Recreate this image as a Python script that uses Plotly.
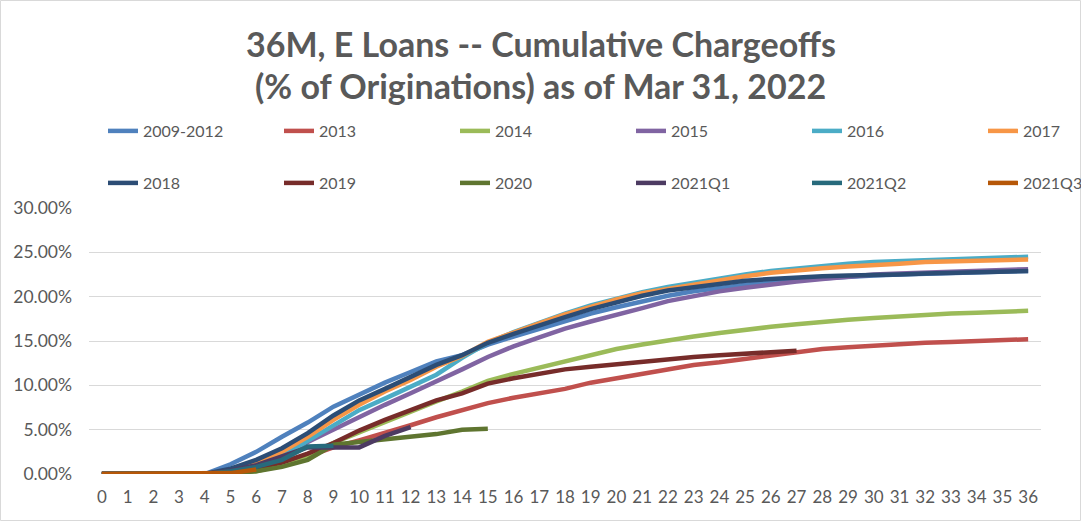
import plotly.graph_objects as go

months = list(range(0, 37))
tick_labels = [str(m) for m in months]

series_names = ["2009-2012", "2013", "2014", "2015", "2016", "2017",
                "2018", "2019", "2020", "2021Q1", "2021Q2", "2021Q3"]

s_2009_2012 = [0, 0, 0, 0, 0, 1.1, 2.5, 4.2, 5.8, 7.6, 9.0, 10.3, 11.5, 12.7, 13.4, 14.6,
               15.5, 16.4, 17.3, 18.1, 18.8, 19.5, 20.1, 20.6, 21.0, 21.4, 21.7, 21.9,
               22.1, 22.3, 22.4, 22.5, 22.6, 22.7, 22.8, 22.8, 22.9]
s_2013 = [0, 0, 0, 0, 0, 0.1, 0.4, 1.0, 2.0, 3.0, 3.8, 4.6, 5.5, 6.4, 7.2, 8.0,
          8.6, 9.1, 9.6, 10.3, 10.8, 11.3, 11.8, 12.3, 12.6, 13.0, 13.4, 13.8,
          14.1, 14.3, 14.5, 14.6, 14.8, 14.9, 15.0, 15.1, 15.2]
s_2014 = [0, 0, 0, 0, 0, 0.1, 0.3, 1.0, 2.0, 3.5, 4.7, 5.9, 7.0, 8.2, 9.3, 10.5,
          11.3, 12.0, 12.7, 13.4, 14.1, 14.6, 15.1, 15.5, 15.9, 16.3, 16.6, 16.9,
          17.2, 17.4, 17.6, 17.8, 18.0, 18.1, 18.2, 18.3, 18.4]
s_2015 = [0, 0, 0, 0, 0, 0.3, 1.0, 2.2, 3.6, 5.1, 6.5, 7.8, 9.1, 10.4, 11.8, 13.2,
          14.4, 15.4, 16.4, 17.2, 17.9, 18.7, 19.5, 20.1, 20.6, 21.0, 21.4, 21.7,
          22.0, 22.3, 22.5, 22.6, 22.7, 22.8, 23.0, 23.0, 23.1]
s_2016 = [0, 0, 0, 0, 0, 0.3, 0.9, 2.0, 3.7, 5.5, 7.2, 8.5, 9.8, 11.2, 13.1, 14.8,
          16.0, 17.1, 18.1, 19.0, 19.8, 20.5, 21.1, 21.6, 22.1, 22.5, 22.9, 23.2,
          23.5, 23.7, 23.9, 24.0, 24.2, 24.3, 24.4, 24.4, 24.5]
s_2017 = [0, 0, 0, 0, 0, 0.4, 1.2, 2.5, 4.2, 6.1, 7.8, 9.3, 10.6, 12.1, 13.3, 14.9,
          16.0, 17.0, 18.0, 18.9, 19.7, 20.4, 20.9, 21.4, 21.9, 22.3, 22.7, 23.0,
          23.2, 23.4, 23.5, 23.7, 23.9, 24.0, 24.1, 24.1, 24.2]
s_2018 = [0, 0, 0, 0, 0, 0.6, 1.6, 2.9, 4.6, 6.6, 8.3, 9.6, 11.0, 12.3, 13.4, 14.8,
          15.8, 16.8, 17.7, 18.6, 19.4, 20.1, 20.7, 21.1, 21.5, 21.8, 22.0, 22.2,
          22.3, 22.4, 22.4, 22.5, 22.6, 22.7, 22.8, 22.8, 22.9]
s_2019 = [0, 0, 0, 0, 0, 0.3, 0.7, 1.3, 2.3, 3.5, 4.9, 6.1, 7.2, 8.3, 9.1, 10.2,
          10.8, 11.3, 11.8, 12.1, 12.4, 12.6, 12.9, 13.2, 13.4, 13.6, 13.8, 13.9]
s_2020 = [0, 0, 0, 0, 0, 0.1, 0.3, 0.8, 1.6, 3.3, 3.6, 3.9, 4.3, 4.5, 5.0, 5.1]
s_2021q1 = [0, 0, 0, 0, 0, 0.4, 1.0, 2.0, 3.0, 3.0, 3.0, 4.3, 5.3]
s_2021q2 = [0, 0, 0, 0, 0, 0.3, 0.8, 1.6, 3.1, 3.2]
s_2021q3 = [0, 0, 0, 0, 0, 0.1, 0.5]

all_series = [s_2009_2012, s_2013, s_2014, s_2015, s_2016, s_2017,
              s_2018, s_2019, s_2020, s_2021q1, s_2021q2, s_2021q3]
colors = ["#4F81BD", "#C0504D", "#9BBB59", "#8064A2", "#4BACC6", "#F79646",
          "#2C4D75", "#772C2A", "#5F7530", "#4D3B62", "#276A7C", "#B65708"]

y_ticks = [0, 5, 10, 15, 20, 25, 30]

title_lines = ["36M, E Loans -- Cumulative Chargeoffs",
               "(% of Originations) as of Mar 31, 2022"]

FONT = "Lato, 'Liberation Sans', sans-serif"
GRAY = "#595959"

W, H = 1081, 521
L, R, T, B = 89, 40, 208, 47
pw = W - L - R
ph = H - T - B

# legend layout (pixel positions of each column's text start, row tops)
leg_text_x = [143, 319, 495, 671, 847, 1023]
leg_row_top = [114, 166]

fig = go.Figure()
legend_ids = []
for i, (name, vals, col) in enumerate(zip(series_names, all_series, colors)):
    lid = "legend" if i == 0 else f"legend{i + 1}"
    legend_ids.append(lid)
    fig.add_trace(go.Scatter(
        x=months[:len(vals)], y=vals, name=name, mode="lines",
        line=dict(color=col, width=4.5),
        legend=lid,
    ))

legend_layout = {}
for i, lid in enumerate(legend_ids):
    col = i % 6
    row = i // 6
    legend_layout[lid] = dict(
        orientation="v", xref="paper", yref="paper",
        x=(leg_text_x[col] - 40 - L) / pw, y=(H - B - leg_row_top[row]) / ph,
        xanchor="left", yanchor="top",
        font=dict(family=FONT, size=16, color=GRAY), bgcolor="rgba(0,0,0,0)",
    )

fig.update_layout(
    width=W, height=H,
    margin=dict(l=L, r=R, t=T, b=B, autoexpand=False),
    paper_bgcolor="white", plot_bgcolor="white",
    xaxis=dict(range=[-0.5, 36.5], tickmode="array", tickvals=months, ticktext=tick_labels,
               showgrid=False, zeroline=False, showline=False, ticks="",
               tickfont=dict(family=FONT, size=17, color=GRAY), ticklabelstandoff=11,
               fixedrange=True),
    yaxis=dict(range=[0, 30], tickmode="array", tickvals=y_ticks,
               ticktext=[f"{v:.2f}%" for v in y_ticks],
               showgrid=True, gridcolor="#D9D9D9", gridwidth=1.3, zeroline=False,
               showline=False, ticks="",
               tickfont=dict(family=FONT, size=17.5, color=GRAY), ticklabelstandoff=16,
               fixedrange=True),
    showlegend=True,
    **legend_layout,
)

# two-line title as centred annotations
for k, (txt, ycen) in enumerate(zip(title_lines, [43, 86])):
    fig.add_annotation(text=f"<b>{txt}</b>", xref="paper", yref="paper",
                       x=(W / 2 - L) / pw, y=(H - B - ycen) / ph,
                       xanchor="center", yanchor="middle", showarrow=False,
                       font=dict(family=FONT, size=34, color=GRAY))

# chart-area border
fig.add_shape(type="rect", xref="paper", yref="paper",
              x0=(-L + 0.5) / pw, x1=(W - L - 0.5) / pw,
              y0=(-B + 0.5) / ph, y1=1 + (T - 0.5) / ph,
              line=dict(color="#D9D9D9", width=1), fillcolor="rgba(0,0,0,0)", layer="below")

fig.write_html("out.html")
